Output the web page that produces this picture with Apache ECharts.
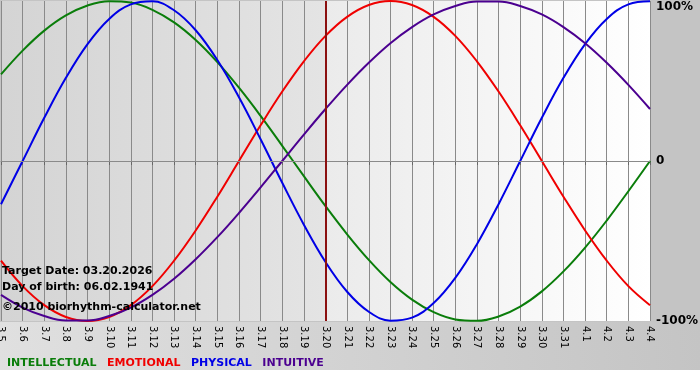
<!DOCTYPE html>
<html>
<head>
<meta charset="utf-8">
<script src="https://cdn.jsdelivr.net/npm/echarts@6/dist/echarts.min.js"></script>
<style>html,body{margin:0;padding:0;background:#fff}#c{width:700px;height:380px}</style>
</head>
<body>
<div id="c"></div>
<script>
var days = ['3.5','3.6','3.7','3.8','3.9','3.10','3.11','3.12','3.13','3.14','3.15','3.16','3.17','3.18','3.19','3.20','3.21','3.22','3.23','3.24','3.25','3.26','3.27','3.28','3.29','3.30','3.31','4.1','4.2','4.3','4.4'];
var targetDay = '3.20';
var intellectual = [54.1,69.0,81.5,91.0,97.2,99.9,99.0,94.5,86.6,75.6,61.8,45.8,28.2,9.5,-9.5,-28.2,-45.8,-61.8,-75.6,-86.6,-94.5,-99.0,-99.9,-97.2,-91.0,-81.5,-69.0,-54.1,-37.2,-18.9,0];
var emotional = [-62.3,-78.2,-90.1,-97.5,-100,-97.5,-90.1,-78.2,-62.3,-43.4,-22.3,0,22.3,43.4,62.3,78.2,90.1,97.5,100,97.5,90.1,78.2,62.3,43.4,22.3,0,-22.3,-43.4,-62.3,-78.2,-90.1];
var physical = [-27.0,0,27.0,52.0,73.1,88.8,97.9,99.8,94.2,81.7,63.1,39.8,13.6,-13.6,-39.8,-63.1,-81.7,-94.2,-99.8,-97.9,-88.8,-73.1,-52.0,-27.0,0,27.0,52.0,73.1,88.8,97.9,99.8];
var intuitive = [-83.7,-91.6,-96.9,-99.7,-99.7,-96.9,-91.6,-83.7,-73.6,-61.4,-47.6,-32.5,-16.5,0,16.5,32.5,47.6,61.4,73.6,83.7,91.6,96.9,99.7,99.7,96.9,91.6,83.7,73.6,61.4,47.6,32.5];
var seriesNames = ['INTELLECTUAL','EMOTIONAL','PHYSICAL','INTUITIVE'];
var seriesColors = ['#0a7d0a','#f00000','#0000e6','#4b0090'];
var infoLines = ['Target Date: 03.20.2026','Day of birth: 06.02.1941','\u00a92010 biorhythm-calculator.net'];

var chart = echarts.init(document.getElementById('c'), null, {renderer:'canvas'});
var FONT = '"DejaVu Sans", Verdana, sans-serif';
var values = [intellectual, emotional, physical, intuitive];
var series = seriesNames.map(function(n, i){
  return {
    name: n, type: 'line', data: values[i], smooth: 0.4, showSymbol: false,
    lineStyle: {color: seriesColors[i], width: 2}, itemStyle: {color: seriesColors[i]},
    z: 3
  };
});
series[0].markLine = {
  silent: true, symbol: 'none', label: {show: false},
  data: [
    {yAxis: 0, lineStyle: {color: '#8a8a8a', width: 1, type: 'solid'}},
    {xAxis: targetDay, lineStyle: {color: '#8b1010', width: 2, type: 'solid'}}
  ]
};
var option = {
  backgroundColor: '#c4c4c4',
  animation: false,
  textStyle: {fontFamily: FONT},
  grid: {
    left: 1, right: 50, top: 1, bottom: 59, show: true, borderWidth: 0,
    containLabel: false, outerBoundsMode: 'none',
    backgroundColor: new echarts.graphic.LinearGradient(0,0,1,0,[
      {offset:0, color:'#d4d4d4'},{offset:0.5, color:'#e4e4e4'},
      {offset:0.5, color:'#ebebeb'},{offset:1, color:'#ffffff'}
    ])
  },
  legend: {
    left: -3, top: 353, icon: 'none', itemWidth: 0, itemHeight: 0, itemGap: 5.5,
    selectedMode: false,
    textStyle: {fontFamily: FONT, fontWeight: 'bold', fontSize: 11},
    data: seriesNames.map(function(n,i){ return {name: n, textStyle: {color: seriesColors[i]}}; })
  },
  xAxis: {
    type: 'category', data: days, boundaryGap: false,
    axisLine: {lineStyle: {color: '#888'}},
    axisTick: {show: true, length: 4, lineStyle: {color: '#666'}},
    splitLine: {show: true, lineStyle: {color: '#8a8a8a', width: 1}},
    axisLabel: {interval: 0, rotate: -90, fontSize: 10, color: '#000', margin: 5, fontFamily: FONT}
  },
  yAxis: {
    type: 'value', min: -100, max: 100, interval: 100, position: 'right',
    axisLine: {show: false}, axisTick: {show: false}, splitLine: {show: false},
    axisLabel: {
      color: '#000', fontWeight: 'bold', fontSize: 12, margin: 6, fontFamily: FONT,
      verticalAlignMaxLabel: 'top',
      formatter: function(v){ return v === 0 ? '0' : v + '%'; }
    }
  },
  graphic: [
    {type: 'rect', z: -100, silent: true, shape: {x: 0, y: 322, width: 700, height: 48},
     style: {fill: new echarts.graphic.LinearGradient(1,0,0,1,[{offset:0,color:'#c4c4c4'},{offset:1,color:'#e0e0e0'}])}},
    {type: 'rect', z: -100, silent: true, shape: {x: 0, y: 370, width: 700, height: 10}, style: {fill: '#ffffff'}}
  ].concat(infoLines.map(function(t, i){
    return {type: 'text', left: 2, top: [266, 281.5, 301.5][i], z: 10, silent: true,
      style: {text: t, fill: '#000', font: 'bold 11px ' + FONT}};
  })),
  series: series
};
chart.setOption(option);
</script>
</body>
</html>
